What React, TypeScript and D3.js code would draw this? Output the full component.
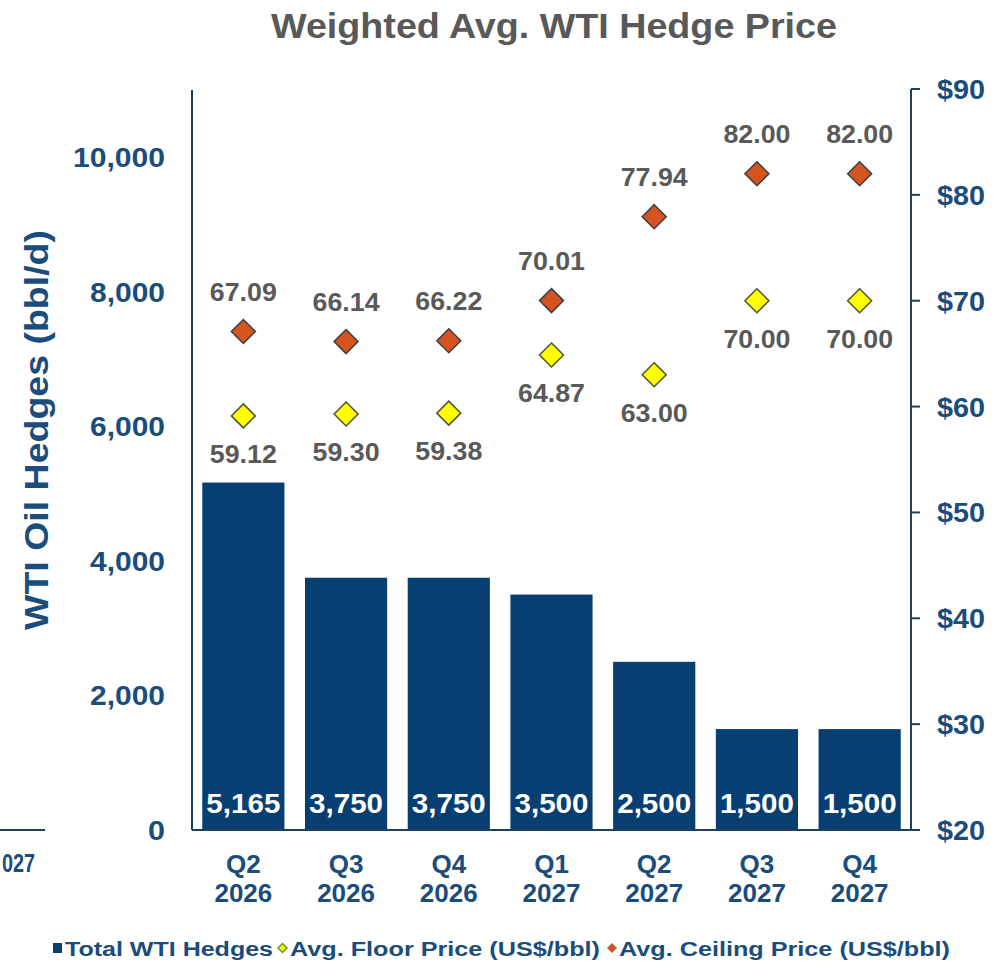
import React from "react";
import * as d3 from "d3";

const categories = ["Q2|2026", "Q3|2026", "Q4|2026", "Q1|2027", "Q2|2027", "Q3|2027", "Q4|2027"];
const hedges = [5165, 3750, 3750, 3500, 2500, 1500, 1500];
const floorPrice = [59.12, 59.3, 59.38, 64.87, 63.0, 70.0, 70.0];
const ceilingPrice = [67.09, 66.14, 66.22, 70.01, 77.94, 82.0, 82.0];
const leftTicks = [0, 2000, 4000, 6000, 8000, 10000];
const rightTicks = [20, 30, 40, 50, 60, 70, 80, 90];

const W = 1000;
const H = 961;
const FONT = "'Liberation Sans', Arial, sans-serif";
const BLUE = "#083F73";
const AXIS_TXT = "#1A4C7C";
const GRAY = "#595959";

export default function App() {
  const x0 = 192;
  const x1 = 911;
  const yTop = 90;
  const yBot = 830;
  const x = d3.scaleBand<string>().domain(categories).range([x0, x1]).paddingInner(0.2).paddingOuter(0.1);
  const yL = d3.scaleLinear().domain([0, 11000]).range([yBot, yTop]);
  const yR = d3.scaleLinear().domain([20, 90]).range([yBot, 89]);
  const fmt = d3.format(",");
  const f2 = d3.format(".2f");
  const diamond = (cx: number, cy: number, r: number) =>
    `M${cx},${cy - r}L${cx + r},${cy}L${cx},${cy + r}L${cx - r},${cy}Z`;

  return (
    <svg width={W} height={H} style={{ position: "absolute", left: 0, top: 0, background: "#fff" }} fontFamily={FONT}>
      <rect width={W} height={H} fill="#fff" />
      {/* remnant of neighbouring chart */}
      <line x1={0} x2={45} y1={yBot} y2={yBot} stroke="#1F3F5F" strokeWidth={2} />
      <text x={2} y={872} fontSize={26} fontWeight="bold" fill={AXIS_TXT}
        textLength={33} lengthAdjust="spacingAndGlyphs">027</text>

      <text x={554} y={38} textAnchor="middle" fontSize={35} fontWeight="bold" fill={GRAY}
        textLength={566} lengthAdjust="spacingAndGlyphs">Weighted Avg. WTI Hedge Price</text>

      <text transform={`translate(48,430) rotate(-90)`} textAnchor="middle" fontSize={34} fontWeight="bold"
        fill={AXIS_TXT} textLength={400} lengthAdjust="spacingAndGlyphs">WTI Oil Hedges (bbl/d)</text>

      {/* bars */}
      {hedges.map((v, i) => (
        <rect key={"b" + i} x={x(categories[i])!} y={yL(v)} width={x.bandwidth()} height={yBot - yL(v)} fill={BLUE} />
      ))}
      {hedges.map((v, i) => (
        <text key={"bl" + i} x={x(categories[i])! + x.bandwidth() / 2} y={813} textAnchor="middle" fontSize={27}
          fontWeight="bold" fill="#fff" textLength={74} lengthAdjust="spacingAndGlyphs">{fmt(v)}</text>
      ))}

      {/* axes */}
      <line x1={x0} x2={x0} y1={yTop} y2={yBot} stroke="#1F3F5F" strokeWidth={2} />
      <line x1={x0} x2={x1 + 9} y1={yBot} y2={yBot} stroke="#1F3F5F" strokeWidth={2} />
      <line x1={x1} x2={x1} y1={yR(90)} y2={yBot} stroke="#1F3F5F" strokeWidth={2} />
      {rightTicks.map((t) => (
        <g key={"rt" + t}>
          <line x1={x1} x2={x1 + 9} y1={yR(t)} y2={yR(t)} stroke="#1F3F5F" strokeWidth={2} />
          <text x={937} y={yR(t) + 10} fontSize={28} fontWeight="bold" fill={AXIS_TXT}
            textLength={48} lengthAdjust="spacingAndGlyphs">{"$" + t}</text>
        </g>
      ))}
      {leftTicks.map((t) => {
        const s = fmt(t);
        const len = s.length === 1 ? 17 : s.length === 5 ? 75 : 92;
        return (
          <text key={"lt" + t} x={165} y={yL(t) + 10} textAnchor="end" fontSize={28} fontWeight="bold" fill={AXIS_TXT}
            textLength={len} lengthAdjust="spacingAndGlyphs">{s}</text>
        );
      })}
      {categories.map((c) => {
        const [q, yr] = c.split("|");
        const cx = x(c)! + x.bandwidth() / 2;
        return (
          <g key={"xl" + c}>
            <text x={cx} y={873} textAnchor="middle" fontSize={26} fontWeight="bold" fill={AXIS_TXT}>{q}</text>
            <text x={cx} y={902} textAnchor="middle" fontSize={26} fontWeight="bold" fill={AXIS_TXT}>{yr}</text>
          </g>
        );
      })}

      {/* floor */}
      {floorPrice.map((v, i) => {
        const cx = x(categories[i])! + x.bandwidth() / 2;
        return (
          <g key={"f" + i}>
            <path d={diamond(cx, yR(v), 12)} fill="#FFFF00" stroke="#4A5530" strokeWidth={1.5} />
            <text x={cx} y={yR(v) + 47} textAnchor="middle" fontSize={26} fontWeight="bold" fill={GRAY}
              textLength={67} lengthAdjust="spacingAndGlyphs">{f2(v)}</text>
          </g>
        );
      })}
      {/* ceiling */}
      {ceilingPrice.map((v, i) => {
        const cx = x(categories[i])! + x.bandwidth() / 2;
        return (
          <g key={"c" + i}>
            <path d={diamond(cx, yR(v), 12)} fill="#D5531E" stroke="#3A3F4A" strokeWidth={1.5} />
            <text x={cx} y={yR(v) - 31} textAnchor="middle" fontSize={26} fontWeight="bold" fill={GRAY}
              textLength={67} lengthAdjust="spacingAndGlyphs">{f2(v)}</text>
          </g>
        );
      })}

      {/* legend */}
      <rect x={53} y={943} width={9} height={10} fill={BLUE} />
      <text x={65} y={956} fontSize={20} fontWeight="bold" fill={AXIS_TXT} textLength={208} lengthAdjust="spacingAndGlyphs">Total WTI Hedges</text>
      <path d={diamond(282.5, 948, 4.5)} fill="#FFFF00" stroke="#6A9A20" strokeWidth={1.5} />
      <text x={290} y={956} fontSize={20} fontWeight="bold" fill={AXIS_TXT} textLength={310} lengthAdjust="spacingAndGlyphs">Avg. Floor Price (US$/bbl)</text>
      <path d={diamond(612, 948, 4.5)} fill="#D5531E" stroke="#9A6A50" strokeWidth={1} />
      <text x={619} y={956} fontSize={20} fontWeight="bold" fill={AXIS_TXT} textLength={331} lengthAdjust="spacingAndGlyphs">Avg. Ceiling Price (US$/bbl)</text>
    </svg>
  );
}
